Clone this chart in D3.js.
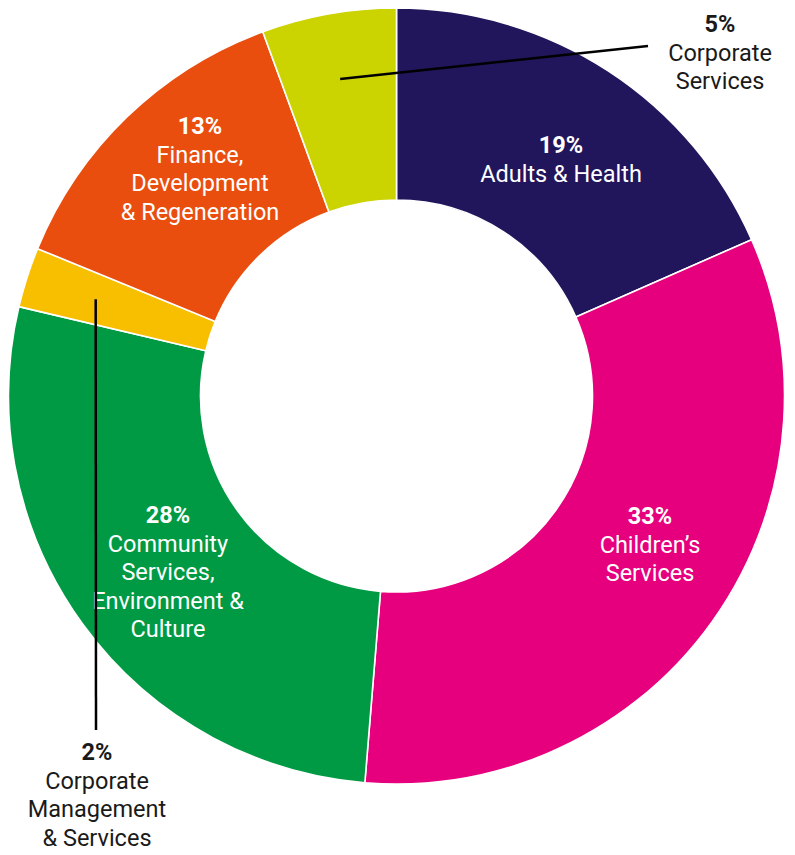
<!DOCTYPE html>
<html>
<head>
<meta charset="utf-8">
<script src="https://cdn.jsdelivr.net/npm/d3@7"></script>
<style>
  html, body { margin: 0; padding: 0; background: #fff; }
  svg { display: block; }
  text { font-family: Roboto, "Noto Sans", sans-serif; }
</style>
</head>
<body>
<svg id="chart" width="795" height="855"></svg>
<script>
// ---- data ----
const categories = [
  "Adults & Health",
  "Children’s Services",
  "Community Services, Environment & Culture",
  "Corporate Management & Services",
  "Finance, Development & Regeneration",
  "Corporate Services"
];
const values = [18.4, 32.9, 27.4, 2.5, 13.2, 5.6];
const percentLabels = ["19%", "33%", "28%", "2%", "13%", "5%"];
const nameLines = [
  ["Adults & Health"],
  ["Children’s", "Services"],
  ["Community", "Services,", "Environment &", "Culture"],
  ["Corporate", "Management", "& Services"],
  ["Finance,", "Development", "& Regeneration"],
  ["Corporate", "Services"]
];
const colors = ["#21165C", "#E6007E", "#009A44", "#F8BE00", "#E94E0F", "#CBD300"];

// ---- layout (positions, not data) ----
const cx = 396.5, cy = 396;
const outerR = 388, innerR = 196;
const labelPos = [
  {x: 561, y: 153},
  {x: 650, y: 524},
  {x: 168, y: 523},
  {x: 97,  y: 760, outside: true, lead: {r: 316, ex: 96, ey: 730}},
  {x: 200, y: 134},
  {x: 720, y: 32,  outside: true, lead: {r: 322, ex: 648, ey: 46}}
];
const lineH = 28.5;
const fontSize = 23.5;

const svg = d3.select("#chart");
const g = svg.append("g").attr("transform", `translate(${cx},${cy})`);

const pie = d3.pie().sort(null).value(d => d.value);
const data = categories.map((c, i) => ({name: c, value: values[i], i}));
const arcs = pie(data);

const arc = d3.arc().innerRadius(innerR).outerRadius(outerR);

g.selectAll("path.slice")
  .data(arcs)
  .join("path")
  .attr("class", "slice")
  .attr("d", arc)
  .attr("fill", d => colors[d.data.i])
  .attr("stroke", "#fff")
  .attr("stroke-width", 1.6)
  .attr("stroke-linejoin", "round");

// labels
const lab = svg.append("g");
arcs.forEach(a => {
  const i = a.data.i;
  const p = labelPos[i];
  const fill = p.outside ? "#1a1a1a" : "#ffffff";
  const t = lab.append("text")
    .attr("text-anchor", "middle")
    .attr("font-size", fontSize)
    .attr("fill", fill);
  t.append("tspan")
    .attr("x", p.x).attr("y", p.y)
    .attr("font-weight", 700)
    .text(percentLabels[i]);
  nameLines[i].forEach((ln, k) => {
    t.append("tspan")
      .attr("x", p.x).attr("y", p.y + lineH * (k + 1))
      .attr("font-weight", 400)
      .text(ln);
  });
});

// leader lines (drawn on top)
arcs.forEach(a => {
  const p = labelPos[a.data.i];
  if (!p.lead) return;
  const mid = (a.startAngle + a.endAngle) / 2;
  const sx = cx + p.lead.r * Math.sin(mid);
  const sy = cy - p.lead.r * Math.cos(mid);
  svg.append("line")
    .attr("x1", sx).attr("y1", sy)
    .attr("x2", p.lead.ex).attr("y2", p.lead.ey)
    .attr("stroke", "#000")
    .attr("stroke-width", 2.5);
});
</script>
</body>
</html>
